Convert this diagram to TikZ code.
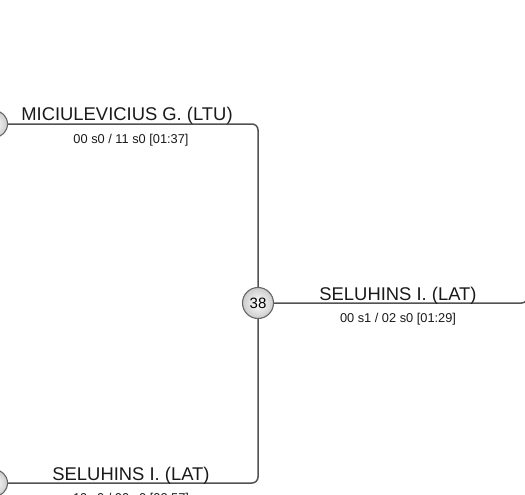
\documentclass[tikz,border=0pt]{standalone}
\usepackage{fontspec}
\setmainfont{Liberation Sans}
\begin{document}
\begin{tikzpicture}[x=1pt,y=1pt,
  conn/.style={draw=black!68, line width=1.5pt, rounded corners=6pt},
  seed/.style={circle, draw=black!60, line width=1.1pt, minimum size=31pt, inner sep=0pt,
    inner color=white, outer color=black!20, font=\fontsize{15}{15}\selectfont},
  lseed/.style={seed, minimum size=27pt},
  pname/.style={anchor=base, inner sep=0pt, font=\fontsize{18.4}{18.4}\selectfont, text=black!90},
  pscore/.style={anchor=base, inner sep=0pt, font=\fontsize{12.8}{12.8}\selectfont, text=black!90}]
\useasboundingbox (0,0) rectangle (525,-495);
% seeds
\node[lseed] (L1) at (-6,-124) {};
\node[lseed] (L2) at (-6,-483) {};
\node[seed] (S38) at (258,-303) {38};
\coordinate (Rend) at (527.5,-230);
% connectors
\draw[conn] (L1.east) -| (S38.north);
\draw[conn] (S38.south) |- (L2.east);
\draw[conn] (S38.east) -| (Rend);
% labels
\node[pname] (n1) at (127,-120) {MICIULEVICIUS G. (LTU)};
\node[pscore] (s1) at (131,-143) {00 s0 / 11 s0 [01:37]};
\node[pname] (n2) at (131,-480) {SELUHINS I. (LAT)};
\node[pscore] (s2) at (131,-502) {10 s0 / 00 s0 [02:57]};
\node[pname] (n3) at (398,-300) {SELUHINS I. (LAT)};
\node[pscore] (s3) at (398,-322) {00 s1 / 02 s0 [01:29]};
\end{tikzpicture}
\end{document}
